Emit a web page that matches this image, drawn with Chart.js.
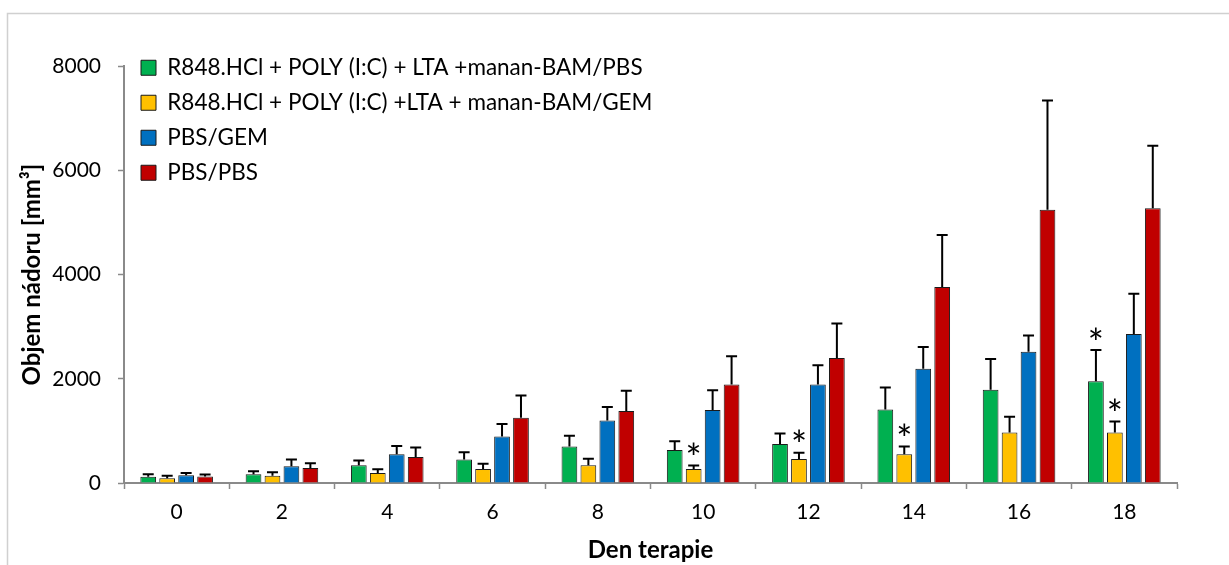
<!DOCTYPE html>
<html>
<head>
<meta charset="utf-8">
<script src="https://cdn.jsdelivr.net/npm/chart.js@4"></script>
<style>
  html, body { margin: 0; padding: 0; background: #fff; }
  #wrap { width: 1229px; height: 565px; }
</style>
</head>
<body>
<div id="wrap"><canvas id="chart" width="1229" height="565"></canvas></div>
<script>
// den terapie
var days = ["0", "2", "4", "6", "8", "10", "12", "14", "16", "18"];

var seriesNames = [
    "R848.HCl + POLY (I:C) + LTA +manan-BAM/PBS",
    "R848.HCl + POLY (I:C) +LTA + manan-BAM/GEM",
    "PBS/GEM",
    "PBS/PBS"
];

// objem nadoru [mm3], prumer
var greenValues  = [120, 170, 340, 450, 700, 635, 750, 1410, 1790, 1950];
var yellowValues = [90, 140, 190, 270, 340, 270, 460, 550, 970, 970];
var blueValues   = [150, 320, 550, 890, 1200, 1400, 1890, 2190, 2520, 2860];
var redValues    = [125, 290, 500, 1250, 1380, 1890, 2400, 3760, 5240, 5270];

// chyba (jen nahoru)
var greenErr  = [50, 55, 90, 140, 205, 165, 200, 420, 590, 600];
var yellowErr = [50, 65, 75, 100, 125, 65, 120, 150, 300, 210];
var blueErr   = [40, 130, 160, 240, 260, 380, 370, 420, 310, 770];
var redErr    = [40, 90, 180, 430, 390, 540, 660, 1000, 2100, 1200];

// hvezdicky = vyznamnost
var greenStars  = [false, false, false, false, false, false, false, false, false, true];
var yellowStars = [false, false, false, false, false, true, true, true, false, true];
var blueStars   = [false, false, false, false, false, false, false, false, false, false];
var redStars    = [false, false, false, false, false, false, false, false, false, false];

var yTicks = [0, 2000, 4000, 6000, 8000];

var colors = ["#00B050", "#FFC000", "#0070C0", "#C00000"];
var allValues = [greenValues, yellowValues, blueValues, redValues];
var allErr = [greenErr, yellowErr, blueErr, redErr];
var allStars = [greenStars, yellowStars, blueStars, redStars];

var datasets = allValues.map((vals, i) => ({
    label: seriesNames[i],
    data: vals,
    errors: allErr[i],
    stars: allStars[i],
    backgroundColor: colors[i],
    borderColor: "#1a1a1a",
    borderWidth: 1,
    borderSkipped: "bottom",
    categoryPercentage: 0.72,
    barPercentage: 0.83
}));

// okraj kolem grafu
const frame = {
    id: "frame",
    beforeDraw(chart){
        var ctx = chart.ctx;
        ctx.save();
        ctx.fillStyle = "#fff";
        ctx.fillRect(0, 0, chart.width, chart.height);
        ctx.strokeStyle = "#d0d0d0";
        ctx.lineWidth = 1.5;
        ctx.strokeRect(7.5, 13.5, chart.width + 20, chart.height + 20);
        ctx.restore();
    }
};

// posun legendy
const legendShift = {
    id: "legendShift",
    afterLayout(chart){
        var lg = chart.legend;
        lg.left += 4.5; lg.right += 4.5;
        lg.top += 44; lg.bottom += 44;
    }
};

// chybove useky + hvezdicky
const errorBars = {
    id: "errorBars",
    afterDatasetsDraw(chart){
        var ctx = chart.ctx;
        var yScale = chart.scales.y;
        ctx.save();
        chart.data.datasets.forEach((ds, di) => {
            var meta = chart.getDatasetMeta(di);
            meta.data.forEach((bar, j) => {
                var top = yScale.getPixelForValue(ds.data[j] + ds.errors[j]);
                ctx.strokeStyle = "#000";
                ctx.lineWidth = 2;
                ctx.beginPath();
                ctx.moveTo(bar.x, bar.y);
                ctx.lineTo(bar.x, top);
                ctx.moveTo(bar.x - 5.5, top);
                ctx.lineTo(bar.x + 5.5, top);
                ctx.stroke();
                if(ds.stars[j]){
                    ctx.font = "38px Lato";
                    ctx.fillStyle = "#000";
                    ctx.textAlign = "center";
                    ctx.textBaseline = "alphabetic";
                    var m = ctx.measureText("*");
                    var cy = top - 17;
                    ctx.fillText("*", bar.x, cy + (m.actualBoundingBoxAscent - m.actualBoundingBoxDescent) / 2);
                }
            });
        });
        ctx.restore();
    }
};

new Chart(document.getElementById("chart"), {
    type: "bar",
    data: {
        labels: days,
        datasets: datasets
    },
    options: {
        responsive: false,
        animation: false,
        layout: {
            padding: { left: 8, top: 66, right: 52, bottom: 0 }
        },
        plugins: {
            tooltip: { enabled: false },
            legend: {
                position: "chartArea",
                align: "start",
                labels: {
                    boxWidth: 15,
                    boxHeight: 15,
                    padding: 12.5,
                    color: "#000",
                    font: { family: "Lato", size: 22.5 }
                }
            }
        },
        scales: {
            x: {
                afterFit(scale){ scale.height = 82; },
                grid: {
                    drawOnChartArea: false,
                    drawTicks: true,
                    tickLength: 6,
                    tickColor: "#8a8a8a",
                    tickWidth: 1.5
                },
                border: { color: "#8a8a8a", width: 2 },
                ticks: {
                    color: "#000",
                    padding: 11,
                    font: { family: "Lato", size: 21 }
                },
                title: {
                    display: true,
                    text: "Den terapie",
                    color: "#000",
                    padding: { top: 0, bottom: 0 },
                    font: { family: "Lato", size: 24, weight: "bold" }
                }
            },
            y: {
                min: 0,
                max: 8000,
                afterFit(scale){ scale.width = 116; },
                afterBuildTicks(scale){ scale.ticks = yTicks.map(v => ({ value: v })); },
                grid: {
                    drawOnChartArea: false,
                    drawTicks: true,
                    tickLength: 6,
                    tickColor: "#8a8a8a",
                    tickWidth: 1.5
                },
                border: { color: "#8a8a8a", width: 2 },
                ticks: {
                    color: "#000",
                    padding: 17,
                    font: { family: "Lato", size: 21 },
                    callback: (v) => String(v)
                },
                title: {
                    display: true,
                    text: "Objem nádoru [mm³]",
                    color: "#000",
                    padding: { top: 9.5, bottom: 0 },
                    font: { family: "Lato", size: 24, weight: "bold" }
                }
            }
        }
    },
    plugins: [frame, legendShift, errorBars]
});
</script>
</body>
</html>
